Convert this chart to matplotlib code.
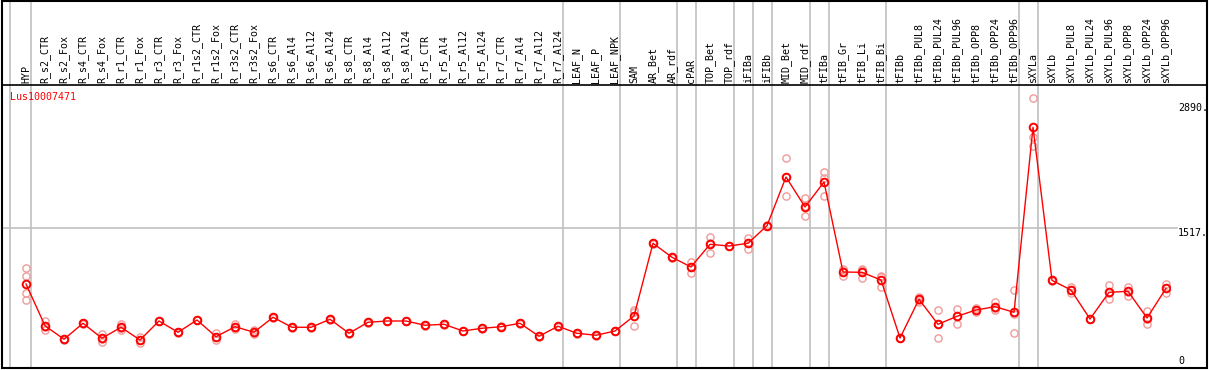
import matplotlib
matplotlib.use("Agg")
import matplotlib.pyplot as plt
from matplotlib.patches import Rectangle
from matplotlib.lines import Line2D

# sample names (one column each)
samples = ["HYP", "R_s2_CTR", "R_s2_Fox", "R_s4_CTR", "R_s4_Fox", "R_r1_CTR", "R_r1_Fox",
           "R_r3_CTR", "R_r3_Fox", "R_r1s2_CTR", "R_r1s2_Fox", "R_r3s2_CTR", "R_r3s2_Fox",
           "R_s6_CTR", "R_s6_Al4", "R_s6_Al12", "R_s6_Al24", "R_s8_CTR", "R_s8_Al4",
           "R_s8_Al12", "R_s8_Al24", "R_r5_CTR", "R_r5_Al4", "R_r5_Al12", "R_r5_Al24",
           "R_r7_CTR", "R_r7_Al4", "R_r7_Al12", "R_r7_Al24", "LEAF_N", "LEAF_P", "LEAF_NPK",
           "SAM", "AR_Bet", "AR_rdf", "cPAR", "TOP_Bet", "TOP_rdf", "iFIBa", "iFIBb",
           "MID_Bet", "MID_rdf", "tFIBa", "tFIB_Gr", "tFIB_Li", "tFIB_Bi", "tFIBb",
           "tFIBb_PUL8", "tFIBb_PUL24", "tFIBb_PUL96", "tFIBb_OPP8", "tFIBb_OPP24",
           "tFIBb_OPP96", "sXYLa", "sXYLb", "sXYLb_PUL8", "sXYLb_PUL24", "sXYLb_PUL96",
           "sXYLb_OPP8", "sXYLb_OPP24", "sXYLb_OPP96"]

# mean expression per sample
means = [898, 438, 289, 465, 300, 421, 281, 490, 366, 501, 317, 427, 366,
         531, 421, 421, 509, 355, 476, 490, 490, 443, 454, 380, 410,
         427, 465, 322, 432, 355, 333, 380,
         545, 1346, 1192, 1085, 1335, 1316, 1346, 1540,
         2076, 1746, 2021, 1030, 1026, 942, 303,
         729, 454, 542, 611, 648, 586,
         2623, 938, 831, 512, 806, 817, 523, 850]

# replicate values per sample
reps = [[1074, 985, 800, 721], [493, 394, 427], [295, 283, 289], [470, 460, 465],
        [347, 259, 294], [460, 391, 412], [311, 251, 281], [495, 485, 490],
        [372, 360, 366], [505, 497, 501], [355, 317, 281], [457, 427, 397],
        [391, 344, 363], [535, 527, 531], [425, 417, 421], [425, 417, 421],
        [513, 505, 509], [359, 351, 355], [480, 472, 476], [494, 486, 490],
        [494, 486, 490], [447, 439, 443], [458, 450, 454], [384, 376, 380],
        [414, 406, 410], [431, 423, 427], [469, 461, 465], [326, 318, 322],
        [436, 428, 432], [359, 351, 355], [337, 329, 333], [384, 376, 380],
        [611, 592, 438], [1352, 1340, 1346], [1198, 1186, 1192], [1143, 1022, 1090],
        [1419, 1236, 1350], [1320, 1312, 1316], [1401, 1283, 1354], [1545, 1535, 1540],
        [2285, 1863, 2080], [1841, 1643, 1754], [2134, 2062, 1863], [1059, 989, 1042],
        [1059, 964, 1055], [989, 861, 976], [307, 299, 303],
        [758, 703, 726], [608, 300, 454], [622, 454, 550], [630, 611, 592],
        [703, 611, 630], [831, 355, 572],
        [2943, 2520, 2417], [942, 934, 938], [868, 795, 830], [516, 508, 512],
        [887, 729, 802], [868, 769, 814], [600, 454, 516], [898, 802, 850]]

# last sample of each tissue group (grey separators)
group_ends = [0, 28, 31, 34, 35, 37, 38, 39, 41, 42, 45, 52, 53, 60]
gene = "Lus10007471"
scale_labels = [2890, 1517, 0]
grid_val = 1517

W, H = 1209, 370
fig = plt.figure(figsize=(W / 100, H / 100), dpi=100)


def fx(px):
    return px / W


def fy(py):
    return 1 - py / H


grey = "#c0c0c0"
mono = "DejaVu Sans Mono"
fs = 7.2

ax = fig.add_axes([fx(2), fy(368), fx(1170) - fx(2), fy(85) - fy(368)])
hx = fig.add_axes([fx(2), fy(85), fx(1170) - fx(2), fy(0) - fy(85)])
rax = fig.add_axes([fx(1170), fy(368), fx(1207) - fx(1170), fy(85) - fy(368)])

x = list(range(len(samples)))
for a in (ax, hx):
    a.set_xlim(-1.263, 60.21)
    a.axvline(-0.84, color=grey, lw=1.2, zorder=0)
    for g in group_ends:
        a.axvline(g + 0.24, color=grey, lw=1.2, zorder=0)
    a.set_axis_off()

ax.set_ylim(-27.5, 3089)
rax.set_ylim(-27.5, 3089)
rax.set_xlim(0, 1)
rax.set_axis_off()
hx.set_ylim(0, 1)

ax.axhline(grid_val, color=grey, lw=1.2, zorder=0)
rax.plot([0, 7 / 37], [grid_val, grid_val], color=grey, lw=1.2)

# header labels
for i, s in enumerate(samples):
    hx.text(i, 2 / 85, s, rotation=90, ha="center", va="bottom",
            family=mono, fontsize=fs, color="black")

# replicates
rx, ry = [], []
for i, r in enumerate(reps):
    for v in r:
        rx.append(i)
        ry.append(v)
ax.plot(rx, ry, "o", ls="none", ms=5.2, mfc="none", mec="#f09a9a", mew=1.0, zorder=2)

# mean line
ax.plot(x, means, color="red", lw=1, zorder=3)
ax.plot(x, means, "o", ls="none", ms=5.5, mfc="none", mec="red", mew=1.4, zorder=5)

# scale labels on the right
for v in scale_labels:
    rax.text(8 / 37, v, f"{v}." if v else "0", ha="left",
             va="top" if v else "bottom", family=mono, fontsize=fs)

fig.text(fx(10), fy(97), gene, color="red", ha="left", va="center",
         family=mono, fontsize=fs)

# frame and header separator
fig.add_artist(Rectangle((fx(2), fy(368)), fx(1207) - fx(2), fy(0.5) - fy(368),
                         fill=False, edgecolor="black", lw=1.5, transform=fig.transFigure))
fig.add_artist(Line2D([fx(2), fx(1207)], [fy(85), fy(85)], color="black", lw=1.2,
                      transform=fig.transFigure))

fig.savefig("out.png", dpi=100)
